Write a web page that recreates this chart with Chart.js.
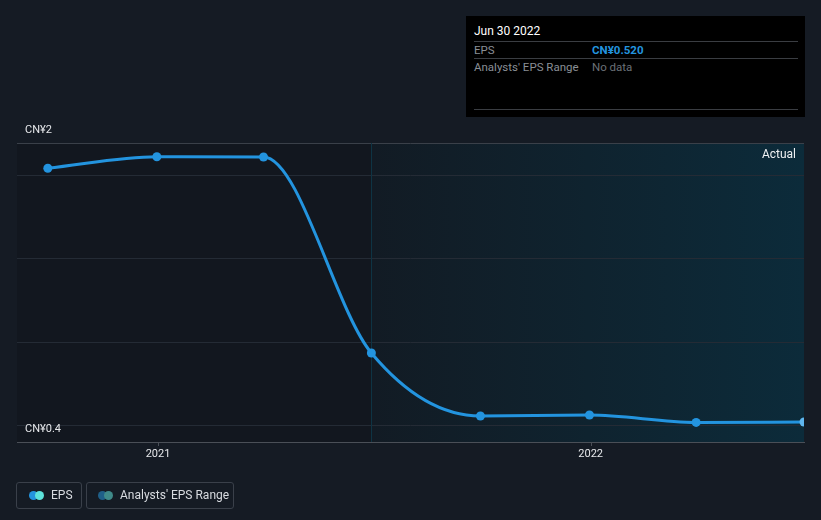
<!DOCTYPE html>
<html>
<head>
<meta charset="utf-8">
<script src="https://cdn.jsdelivr.net/npm/chart.js@4.4.0/dist/chart.umd.min.js"></script>
<style>
  html,body{margin:0;padding:0;background:#151b24;width:821px;height:520px;overflow:hidden;font-family:Roboto,"Noto Sans",sans-serif;}
  #wrap{position:absolute;left:0;top:0;width:821px;height:520px;}
  #tip{position:absolute;left:466px;top:16px;width:339px;height:101px;background:#000;color:#fff;font-size:11px;}
  #tip .t{position:absolute;left:8px;top:8px;font-size:12px;color:#fff;}
  #tip .sep{position:absolute;left:8px;width:324px;height:1px;background:#3a3d42;}
  #tip .l{position:absolute;left:8px;color:#8a8f96;font-size:11.5px;}
  #tip .v{position:absolute;left:126px;font-size:11.5px;}
  .leg{position:absolute;top:482px;height:25px;border:1px solid #3a404a;border-radius:3px;color:#d8dbe0;font-size:12px;line-height:25px;box-sizing:content-box;}
  .dots{position:absolute;top:8px;width:18px;height:9px;}
  .dots span{position:absolute;top:0;width:9px;height:9px;border-radius:50%;}
</style>
</head>
<body>
<div id="wrap"><canvas id="c" width="821" height="520"></canvas></div>
<div id="tip">
  <div class="t">Jun 30 2022</div>
  <div class="sep" style="top:25px"></div>
  <div class="l" style="top:27px">EPS</div>
  <div class="v" style="top:27px;color:#2394df;font-weight:bold">CN¥0.520</div>
  <div class="sep" style="top:42px"></div>
  <div class="l" style="top:44px">Analysts' EPS Range</div>
  <div class="v" style="top:44px;color:#6b7077">No data</div>
  <div class="sep" style="top:93px"></div>
</div>
<div class="leg" style="left:16px;width:64px;">
  <div class="dots" style="left:12px"><span style="left:0;background:#2394df"></span><span style="left:6px;background:#5de3dc"></span></div>
  <span style="position:absolute;left:34px;">EPS</span>
</div>
<div class="leg" style="left:86px;width:146px;">
  <div class="dots" style="left:11px"><span style="left:0;background:#1f5f88"></span><span style="left:6px;background:#3f8a89"></span></div>
  <span style="position:absolute;left:33px;">Analysts' EPS Range</span>
</div>
<script>
// days since 1 Jan 2021
const dates = ["Sep 30 2020","Dec 31 2020","Mar 31 2021","Jun 30 2021","Sep 30 2021","Dec 31 2021","Mar 31 2022","Jun 30 2022"];
const dayOffsets = [-93, -1, 89, 180, 272, 364, 454, 545];
const epsValues = [1.866, 1.927, 1.926, 0.886, 0.552, 0.557, 0.518, 0.520];
const yearTicks = [0, 365];
const yearLabels = ["2021", "2022"];
const yLabelValues = [2, 0.414];
const yLabelTexts = ["CN¥2", "CN¥0.4"];
const gridValues = [1.830, 1.390, 0.944, 0.504];
const actualStart = 180;
const xMin = -119, xMax = 545, yMin = 0.414, yMax = 2;

const points = dayOffsets.map((d, i) => ({x: d, y: epsValues[i]}));

const bgPlugin = {
  id: 'bg',
  beforeDraw(chart) {
    const {ctx, chartArea: a, scales} = chart;
    const xs = scales.x.getPixelForValue(actualStart);
    ctx.save();
    ctx.fillStyle = '#12171f';
    ctx.fillRect(a.left, a.top, xs - a.left, a.bottom - a.top);
    const g = ctx.createLinearGradient(xs, 0, a.right, 0);
    g.addColorStop(0, '#121b24');
    g.addColorStop(1, '#0c2b3a');
    ctx.fillStyle = g;
    ctx.fillRect(xs, a.top, a.right - xs, a.bottom - a.top);
    ctx.restore();
  },
  beforeDatasetsDraw(chart) {
    const {ctx, chartArea: a, scales} = chart;
    const xs = scales.x.getPixelForValue(actualStart);
    ctx.save();
    ctx.strokeStyle = '#0e3444';
    ctx.lineWidth = 1;
    ctx.beginPath();
    ctx.moveTo(Math.round(xs) + 0.5, a.top);
    ctx.lineTo(Math.round(xs) + 0.5, a.bottom);
    ctx.stroke();
    ctx.restore();
  },
  afterDraw(chart) {
    const {ctx, chartArea: a, scales} = chart;
    ctx.save();
    ctx.font = '11px Roboto, sans-serif';
    ctx.fillStyle = '#e6e8eb';
    ctx.textBaseline = 'bottom';
    ctx.textAlign = 'left';
    yLabelValues.forEach((v, i) => {
      ctx.fillText(yLabelTexts[i], a.left + 8, scales.y.getPixelForValue(v) - 7);
    });
    ctx.textAlign = 'center';
    ctx.textBaseline = 'top';
    ctx.strokeStyle = '#4a4f57';
    yearTicks.forEach((v, i) => {
      const px = scales.x.getPixelForValue(v);
      ctx.beginPath();
      ctx.moveTo(Math.round(px) + 0.5, a.bottom);
      ctx.lineTo(Math.round(px) + 0.5, a.bottom + 4);
      ctx.stroke();
      ctx.fillText(yearLabels[i], px, a.bottom + 7);
    });
    ctx.font = '12px Roboto, sans-serif';
    ctx.textAlign = 'right';
    ctx.textBaseline = 'middle';
    ctx.fillStyle = '#eef0f2';
    ctx.fillText('Actual', a.right - 8, a.top + 12);
    ctx.restore();
  }
};

new Chart(document.getElementById('c'), {
  type: 'line',
  data: {
    datasets: [{
      label: 'EPS',
      data: points,
      borderColor: '#2394df',
      backgroundColor: '#2394df',
      borderWidth: 3,
      cubicInterpolationMode: 'monotone',
      pointRadius: 4.5,
      pointBorderWidth: 0,
      pointBackgroundColor: ctx => ctx.dataIndex === epsValues.length - 1 ? '#5fb6ee' : '#2394df',
      pointBorderColor: ctx => ctx.dataIndex === epsValues.length - 1 ? '#cfe9fb' : '#2394df',
      fill: false,
      clip: 0
    }]
  },
  plugins: [bgPlugin],
  options: {
    responsive: false,
    animation: false,
    devicePixelRatio: 1,
    layout: {padding: {left: 17, right: 17, top: 143, bottom: 78}},
    plugins: {legend: {display: false}, tooltip: {enabled: false}},
    scales: {
      x: {
        type: 'linear', min: xMin, max: xMax,
        ticks: {display: false},
        grid: {display: false, drawTicks: false},
        border: {display: true, color: '#4a4f57', width: 1}
      },
      y: {
        type: 'linear', min: yMin, max: yMax,
        afterBuildTicks: s => { s.ticks = [yMax, ...gridValues].map(v => ({value: v})); },
        ticks: {display: false},
        grid: {
          drawTicks: false,
          color: c => (c.tick && c.tick.value === yMax) ? '#3a4049' : '#242b35',
          lineWidth: 1
        },
        border: {display: false}
      }
    }
  }
});
</script>
</body>
</html>
